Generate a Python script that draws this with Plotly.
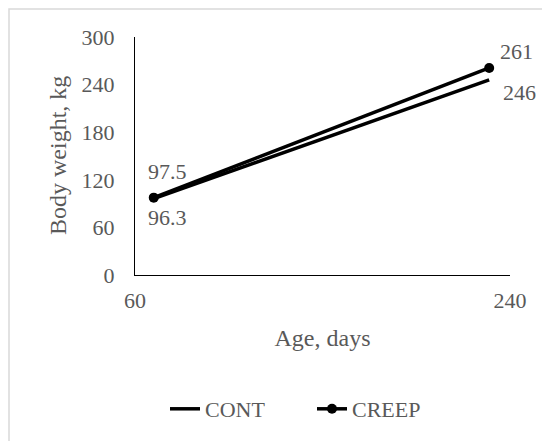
import plotly.graph_objects as go

age = [69, 230]
cont = [96.3, 246]
creep = [97.5, 261]
series_names = ["CONT", "CREEP"]
x_ticks = [60, 240]
y_ticks = [0, 60, 120, 180, 240, 300]

FONT = "Liberation Serif"
GRAY = "#595959"

fig = go.Figure()
fig.add_trace(go.Scatter(x=age, y=cont, mode="lines", name=series_names[0],
                         line=dict(color="black", width=3.5)))
fig.add_trace(go.Scatter(x=age, y=creep, mode="lines+markers", name=series_names[1],
                         line=dict(color="black", width=3.5),
                         marker=dict(color="black", size=10)))

# data labels
offsets_creep = [(14, 26), (27, 16)]
offsets_cont = [(14, -19), (30, -13)]
for xs, ys, offs in [(age, creep, offsets_creep), (age, cont, offsets_cont)]:
    for xv, yv, (dx, dy) in zip(xs, ys, offs):
        fig.add_annotation(x=xv, y=yv, text=f"{yv:g}", showarrow=False,
                           xshift=dx, yshift=dy,
                           font=dict(family=FONT, size=22, color=GRAY))

# y axis title
fig.add_annotation(xref="paper", yref="paper", x=(50 - 127) / 375, y=0.5,
                   text="Body weight, kg", textangle=-90, showarrow=False,
                   xanchor="center", yanchor="middle",
                   font=dict(family=FONT, size=24, color=GRAY))

# chart border (top/left visible)
fig.add_shape(type="rect", xref="paper", yref="paper",
              x0=(1 - 127) / 375, x1=1.5, y0=-1.5, y1=(267 - 1) / 238,
              line=dict(color="#d9d9d9", width=1.5), layer="below")

fig.update_layout(
    width=542, height=433,
    margin=dict(l=127, r=40, t=29, b=166, autoexpand=False),
    paper_bgcolor="white", plot_bgcolor="white",
    font=dict(family=FONT, size=22, color=GRAY),
    showlegend=True,
    legend=dict(orientation="h", x=30 / 375, xanchor="left",
                y=(267 - 401) / 238, yanchor="middle",
                font=dict(family=FONT, size=22, color=GRAY),
                entrywidth=102, entrywidthmode="pixels"),
    xaxis=dict(range=[60, 240], tickvals=x_ticks, ticktext=[str(v) for v in x_ticks],
               showline=True, linecolor="black", linewidth=1,
               showgrid=False, zeroline=False, ticks="",
               ticklabelstandoff=6,
               title=dict(text="Age, days", font=dict(family=FONT, size=24, color=GRAY),
                          standoff=16)),
    yaxis=dict(range=[0, 300], tickvals=y_ticks,
               showline=True, linecolor="black", linewidth=1,
               showgrid=False, zeroline=False, ticks="",
               ticklabelstandoff=15),
)

fig.write_html("out.html")
